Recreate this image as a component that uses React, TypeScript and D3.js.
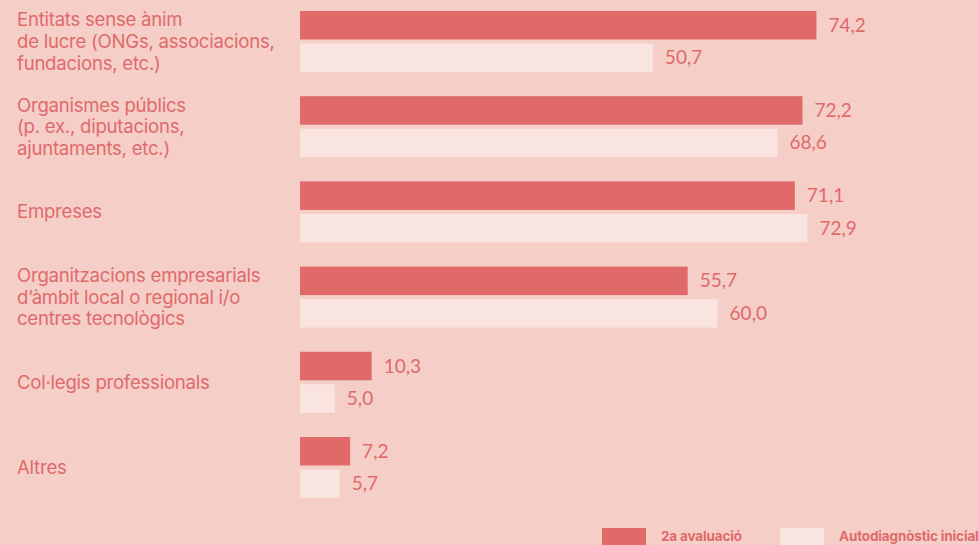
import React from "react";
import * as d3 from "d3";

const categories: string[][] = [
  ["Entitats sense ànim", "de lucre (ONGs, associacions,", "fundacions, etc.)"],
  ["Organismes públics", "(p. ex., diputacions,", "ajuntaments, etc.)"],
  ["Empreses"],
  ["Organitzacions empresarials", "d’àmbit local o regional i/o", "centres tecnològics"],
  ["Col·legis professionals"],
  ["Altres"],
];
const segonaAvaluacio = [74.2, 72.2, 71.1, 55.7, 10.3, 7.2];
const autodiagnostic = [50.7, 68.6, 72.9, 60.0, 5.0, 5.7];
const seriesNames = ["2a avaluació", "Autodiagnòstic inicial"];

const W = 978;
const H = 545;
const BG = "#f5cec8";
const DARK = "#df6a69";
const LIGHT = "#f9e4df";
const TEXT = "#e06a6a";

export default function App() {
  const x = d3.scaleLinear().domain([0, 100]).range([300, 996]);
  const y = d3
    .scaleBand<number>()
    .domain(d3.range(categories.length))
    .range([11, 11 + 85.2 * categories.length])
    .paddingInner(0)
    .paddingOuter(0);
  const fmt = (v: number) => d3.format(".1f")(v).replace(".", ",");
  const barH = 28.5;
  const series = [
    { vals: segonaAvaluacio, color: DARK, off: 0 },
    { vals: autodiagnostic, color: LIGHT, off: 32.5 },
  ];
  return (
    <svg
      width={W}
      height={H}
      style={{ position: "absolute", left: 0, top: 0, display: "block" }}
    >
      <rect x={0} y={0} width={W} height={H} fill={BG} />
      {categories.map((lines, i) => {
        const y0 = y(i)!;
        const center = y0 + 30.5;
        return (
          <g key={i}>
            {lines.map((ln, k) => (
              <text
                key={k}
                x={17}
                y={center + (k - (lines.length - 1) / 2) * 21.7 + 6.5}
                fill={TEXT}
                fontFamily="Inter, sans-serif"
                fontSize={18.6}
                letterSpacing={-0.25}
              >
                {ln}
              </text>
            ))}
            {series.map((s, j) => (
              <g key={j}>
                <rect
                  x={x(0)}
                  y={y0 + s.off}
                  width={x(s.vals[i]) - x(0)}
                  height={barH}
                  fill={s.color}
                />
                <text
                  x={x(s.vals[i]) + 12}
                  y={y0 + s.off + barH / 2 + 6.5}
                  fill={TEXT}
                  fontFamily="Lato, sans-serif"
                  fontSize={19}
                  fontWeight={400}
                >
                  {fmt(s.vals[i])}
                </text>
              </g>
            ))}
          </g>
        );
      })}
      <rect x={602} y={528} width={44} height={20} fill={DARK} />
      <text x={661} y={541} fill={TEXT} fontFamily="Inter, sans-serif" fontWeight={700} fontSize={13.5} letterSpacing={-0.15}>
        {seriesNames[0]}
      </text>
      <rect x={780} y={528} width={44} height={20} fill={LIGHT} />
      <text x={839} y={541} fill={TEXT} fontFamily="Inter, sans-serif" fontWeight={700} fontSize={13.5} letterSpacing={-0.15}>
        {seriesNames[1]}
      </text>
    </svg>
  );
}
